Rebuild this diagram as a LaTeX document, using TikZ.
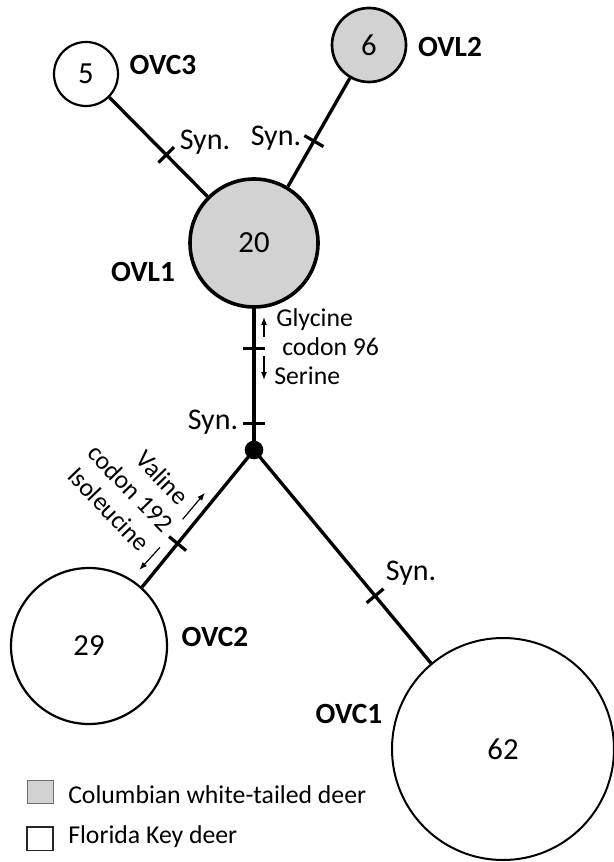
\documentclass[tikz,border=0pt]{standalone}
\usepackage{fontspec}
\setmainfont{Carlito}
\usetikzlibrary{arrows.meta}
\definecolor{hapgray}{RGB}{210,210,210}
\definecolor{legendedge}{RGB}{110,110,110}
\begin{document}
\begin{tikzpicture}[x=0.75pt,y=-0.75pt,
  hap/.style={circle, draw=black, line width=1.65pt, inner sep=0pt, font=\fontsize{23}{26}\selectfont},
  cwtd/.style={hap, fill=hapgray},
  fkd/.style={hap, fill=white},
  hlabel/.style={font=\fontsize{22}{26}\selectfont\bfseries, inner sep=0pt},
  synlabel/.style={font=\fontsize{22.5}{26}\selectfont, inner sep=0pt},
  mutlabel/.style={font=\fontsize{19.3}{23}\selectfont, inner sep=0pt},
  link/.style={line width=2.5pt},
  tickmark/.style={fill=black, inner sep=0pt, minimum width=2.4pt, minimum height=16.5pt, sloped},
  dirarrow/.style={line width=0.9pt, -{Latex[length=6pt,width=4.5pt]}},
]
\useasboundingbox (0,0) rectangle (613,862);
% haplotypes
\node[fkd, minimum size=48pt] (ovc3) at (86,74) {5};
\node[cwtd, minimum size=55.5pt, line width=2pt] (ovl2) at (369,45) {6};
\node[cwtd, minimum size=96pt, line width=2.7pt] (ovl1) at (254,243) {20};
\node[fkd, minimum size=117pt] (ovc2) at (89,646) {29};
\node[fkd, minimum size=166.5pt, line width=1.5pt] (ovc1) at (503,749) {62};
\node[circle, fill=black, inner sep=0pt, minimum size=14pt] (junc) at (254,450) {};
% links
\draw[link] (ovc3.-45) -- node[tickmark, pos=0.58]{} (ovl1.135);
\draw[link] (ovl2.240) -- node[tickmark, pos=0.58]{} (ovl1.59);
\draw[link, line width=3pt] (ovl1.south) -- node[tickmark, pos=0.28]{} node[tickmark, pos=0.811]{} (junc.center);
\draw[link] (junc.center) -- node[tickmark, pos=0.682]{} (ovc2.48);
\draw[link] (junc.center) -- node[tickmark, pos=0.684]{} (ovc1.130);
% haplotype names
\node[hlabel] (lovc3) at (163,65) {OVC3};
\node[hlabel] (lovl2) at (450,47) {OVL2};
\node[hlabel] (lovl1) at (143,272) {OVL1};
\node[hlabel] (lovc2) at (215,637) {OVC2};
\node[hlabel] (lovc1) at (349,714) {OVC1};
% synonymous
\node[synlabel] (syn1) at (205,142) {Syn.};
\node[synlabel] (syn2) at (276,138) {Syn.};
\node[synlabel] (syn3) at (213,422) {Syn.};
\node[synlabel] (syn4) at (411,573) {Syn.};
% codon 96
\node[mutlabel, anchor=west] (gly) at (276,320) {Glycine};
\node[mutlabel, anchor=west] (cod96) at (282,347) {codon 96};
\node[mutlabel, anchor=west] (ser) at (274,376) {Serine};
\coordinate (ga0) at (264,337); \coordinate (ga1) at (264,317);
\draw[dirarrow] (ga0) -- (ga1);
\coordinate (sa0) at (264,356); \coordinate (sa1) at (264,380);
\draw[dirarrow] (sa0) -- (sa1);
% codon 192
\node[mutlabel, rotate=-46] (val) at (162.5,477.5) {Valine};
\node[mutlabel, rotate=-46] (cod192) at (130.5,488) {codon 192};
\node[mutlabel, rotate=-46] (ile) at (109,509) {Isoleucine};
\coordinate (va0) at (182.7,519.3); \coordinate (va1) at (205,492.7);
\draw[dirarrow] (va0) -- (va1);
\coordinate (ia0) at (160,547.3); \coordinate (ia1) at (139.3,570);
\draw[dirarrow] (ia0) -- (ia1);
% legend
\node[draw=legendedge, fill=hapgray, line width=1pt, minimum width=19.5pt, minimum height=17.5pt, inner sep=0pt] (lg1) at (40.5,792) {};
\node[mutlabel, anchor=west] (lt1) at (68,795) {Columbian white-tailed deer};
\node[draw=black!85, fill=white, line width=1pt, minimum width=19.5pt, minimum height=17.5pt, inner sep=0pt] (lg2) at (40,838.5) {};
\node[mutlabel, anchor=west] (lt2) at (68,837) {Florida Key deer};
\end{tikzpicture}
\end{document}
